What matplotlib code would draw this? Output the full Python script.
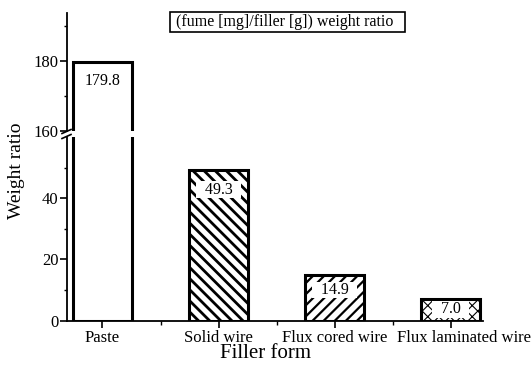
import matplotlib
matplotlib.use("Agg")
import matplotlib.pyplot as plt
from matplotlib.lines import Line2D
from matplotlib.patches import Rectangle
from matplotlib.ticker import FixedLocator
from matplotlib.transforms import ScaledTranslation

categories = ["Paste", "Solid wire", "Flux cored wire", "Flux laminated wire"]
values = [179.8, 49.3, 14.9, 7.0]
value_labels = ["179.8", "49.3", "14.9", "7.0"]
hatches = ["", "\\\\\\", "///", "xxx"]
lower_major = [0, 20, 40]
lower_minor = [10, 30, 50]
upper_major = [160, 180]
upper_minor = [170, 190]

plt.rcParams['font.family'] = ['Liberation Serif', 'DejaVu Serif']

W, H = 532, 372
fig = plt.figure(figsize=(W / 100, H / 100), dpi=100)

left = 67 / W
width = 416 / W
ax_lo = fig.add_axes([left, (H - 320.7) / H, width, (320.7 - 137) / H])
ax_hi = fig.add_axes([left, (H - 131) / H, width, (131 - 13) / H])

xs = list(range(len(categories)))
bw = 0.51
xlim = (-0.306, 3.28)
hatch_lw = [1.0, 2.0, 1.6, 0.8]

for ax in (ax_lo, ax_hi):
    for i, (x, v, h) in enumerate(zip(xs, values, hatches)):
        plt.rcParams['hatch.linewidth'] = hatch_lw[i]
        b = ax.bar(x, v, width=bw, color="white", edgecolor="black",
                   linewidth=2.2, hatch=h, zorder=2)[0]
        if hasattr(b, "set_hatch_linewidth"):
            b.set_hatch_linewidth(hatch_lw[i])
    ax.set_xlim(*xlim)
    for s in ("top", "right"):
        ax.spines[s].set_visible(False)
    ax.spines["left"].set_linewidth(1.3)
    ax.tick_params(axis="y", which="major", direction="out", length=5,
                   width=1.2, labelsize=12, pad=1)
    ax.tick_params(axis="y", which="minor", direction="out", length=2, width=1.0)

ax_lo.set_ylim(0, 60)
ax_hi.set_ylim(160, 160 + 118 / 3.5)

ax_lo.yaxis.set_major_locator(FixedLocator(lower_major))
ax_lo.yaxis.set_minor_locator(FixedLocator(lower_minor))
ax_hi.yaxis.set_major_locator(FixedLocator(upper_major))
ax_hi.yaxis.set_minor_locator(FixedLocator(upper_minor))

ax_hi.spines["bottom"].set_visible(False)
ax_hi.tick_params(axis="x", which="both", bottom=False, labelbottom=False)

ax_lo.spines["bottom"].set_linewidth(1.3)
ax_lo.set_xticks(xs)
labels = ax_lo.set_xticklabels(categories, fontsize=12)
ax_lo.xaxis.set_minor_locator(FixedLocator([0.5, 1.5, 2.5]))
ax_lo.tick_params(axis="x", which="major", direction="out", length=5, width=1.2, pad=2)
ax_lo.tick_params(axis="x", which="minor", direction="out", length=3, width=1.0)
# last label is shifted right in the original so it does not collide
labels[-1].set_transform(labels[-1].get_transform()
                         + ScaledTranslation(13 / 100, 0, fig.dpi_scale_trans))

# value labels (pixel offsets below bar tops)
offsets_px = [-19, -20, -15, -10]
box = dict(boxstyle="square,pad=0.02", facecolor="white", edgecolor="none")
ax_hi.annotate(value_labels[0], (xs[0], values[0]), xytext=(0, offsets_px[0]),
               textcoords="offset pixels", ha="center", va="center",
               fontsize=11.5, zorder=5)
for i in range(1, 4):
    ax_lo.annotate("\u2002" + value_labels[i] + "\u2002", (xs[i], values[i]),
                   xytext=(0, offsets_px[i]), textcoords="offset pixels",
                   ha="center", va="center", fontsize=11.5, zorder=5, bbox=box)

# break marks on the left spine
for yy in (131.5, 136.5):
    fig.add_artist(Line2D([62 / W, 71 / W], [(H - yy - 2) / H, (H - yy + 2) / H],
                          color="black", lw=1.2))

# title box
fig.add_artist(Rectangle((170 / W, 1 - 32 / H), 235 / W, 20 / H,
                         transform=fig.transFigure, facecolor="white",
                         edgecolor="black", linewidth=1.2))
fig.text(285 / W, 1 - 22 / H, "(fume [mg]/filler [g]) weight ratio",
         ha="center", va="center", fontsize=11.5)

fig.text(17 / W, 1 - 171 / H, "Weight ratio", rotation=90, ha="center",
         va="center", fontsize=14)
fig.text(266 / W, 1 - 353 / H, "Filler form", ha="center", va="center",
         fontsize=15)

fig.savefig("out.png", dpi=100)
